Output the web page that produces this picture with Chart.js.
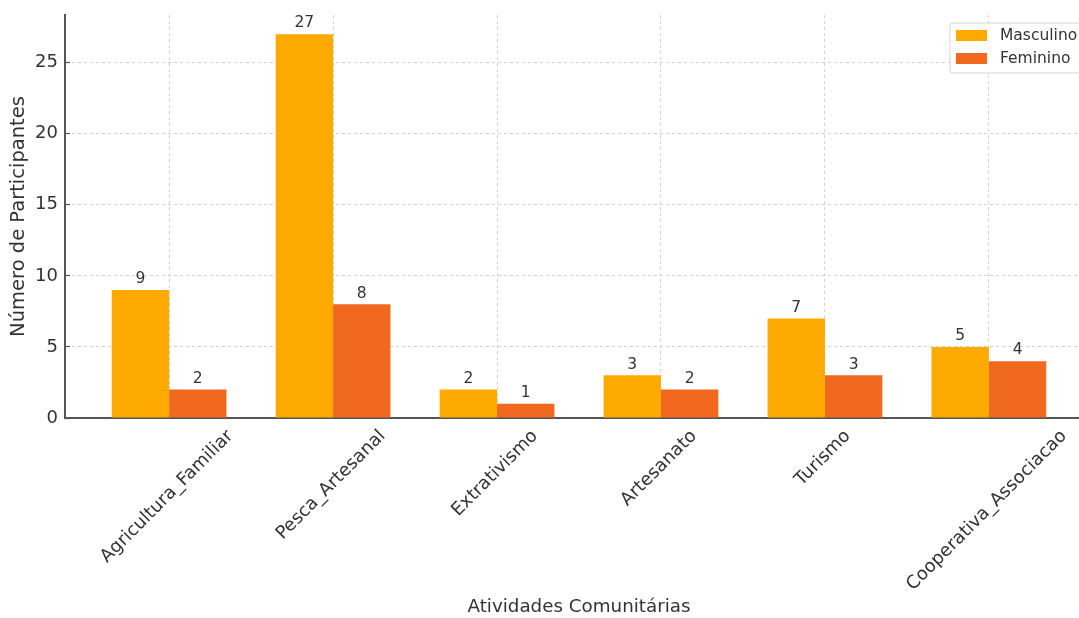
<!DOCTYPE html>
<html>
<head>
<meta charset="utf-8">
<script src="https://cdn.jsdelivr.net/npm/chart.js@4"></script>
<style>
  html, body { margin: 0; padding: 0; overflow: hidden; background: #fff; }
  /* a bit wider than the window: the plot's right edge is cut off like in the original */
  #wrap { width: 1094px; height: 618px; }
</style>
</head>
<body>
<div id="wrap"><canvas id="chart"></canvas></div>
<script>
// Activities and number of participants per gender
const atividades = ['Agricultura_Familiar', 'Pesca_Artesanal', 'Extrativismo', 'Artesanato', 'Turismo', 'Cooperativa_Associacao'];
const masculino = [9, 27, 2, 3, 7, 5];
const feminino = [2, 8, 1, 2, 3, 4];
const serieNomes = ['Masculino', 'Feminino'];
const serieCores = ['#FFAA00', '#F0691F'];

const FONT = '"DejaVu Sans", sans-serif';
const TEXT = '#333';

// Numbers above every bar
const valueLabels = {
    id: 'valueLabels',
    afterDatasetsDraw(chart) {
        const ctx = chart.ctx;
        ctx.save();
        ctx.font = '15.5px ' + FONT;
        ctx.fillStyle = TEXT;
        ctx.textAlign = 'center';
        ctx.textBaseline = 'bottom';
        chart.data.datasets.forEach((ds, di) => {
            chart.getDatasetMeta(di).data.forEach((bar, i) => {
                ctx.fillText(String(ds.data[i].y), bar.x, bar.y - 3);
            });
        });
        ctx.restore();
    }
};

// Rotated category labels, centred under the tick like matplotlib does
const xLabels = {
    id: 'xLabels',
    afterDraw(chart) {
        const ctx = chart.ctx;
        const xs = chart.scales.x;
        const size = 18;
        const h = size * 1.16;
        ctx.save();
        ctx.font = size + 'px ' + FONT;
        ctx.fillStyle = TEXT;
        ctx.textAlign = 'center';
        ctx.textBaseline = 'middle';
        atividades.forEach((lab, i) => {
            const w = ctx.measureText(lab).width;
            const half = (w + h) * Math.SQRT1_2 / 2;
            ctx.save();
            ctx.translate(xs.getPixelForValue(i) - 2, chart.chartArea.bottom + 8 + half);
            ctx.rotate(-Math.PI / 4);
            ctx.fillText(lab, 0, 0);
            ctx.restore();
        });
        ctx.restore();
    }
};

// Legend box in the upper right corner
const legendBox = {
    id: 'legendBox',
    afterDraw(chart) {
        const ctx = chart.ctx;
        const ca = chart.chartArea;
        const x = ca.right - 143, y = ca.top + 8, w = 136, h = 50;
        ctx.save();
        ctx.beginPath();
        ctx.roundRect(x, y, w, h, 3);
        ctx.fillStyle = 'rgba(255,255,255,0.85)';
        ctx.fill();
        ctx.strokeStyle = '#d4d4d4';
        ctx.lineWidth = 1;
        ctx.stroke();
        ctx.font = '15.5px ' + FONT;
        ctx.textBaseline = 'middle';
        chart.data.datasets.forEach((ds, i) => {
            const ry = y + 7 + i * 23;
            ctx.fillStyle = ds.backgroundColor;
            ctx.fillRect(x + 6, ry, 31, 11);
            ctx.fillStyle = TEXT;
            ctx.fillText(ds.label, x + 50, ry + 6);
        });
        ctx.restore();
    }
};

const canvas = document.getElementById('chart');

new Chart(canvas.getContext('2d'), {
    type: 'bar',
    data: {
        datasets: [
            {
                label: serieNomes[0],
                data: masculino.map((v, i) => ({ x: i, y: v })),
                backgroundColor: serieCores[0],
                categoryPercentage: 0.7,
                barPercentage: 1.0,
            },
            {
                label: serieNomes[1],
                data: feminino.map((v, i) => ({ x: i, y: v })),
                backgroundColor: serieCores[1],
                categoryPercentage: 0.7,
                barPercentage: 1.0,
            }
        ]
    },
    options: {
        responsive: true,
        maintainAspectRatio: false,
        animation: false,
        layout: { padding: { top: 15, right: 1, left: 0, bottom: 0 } },
        plugins: {
            legend: { display: false },
            tooltip: { enabled: false }
        },
        scales: {
            x: {
                type: 'linear',
                min: -0.635,
                max: 5.635,
                offset: false,
                afterBuildTicks: (s) => { s.ticks = atividades.map((_, i) => ({ value: i })); },
                ticks: { display: false },
                grid: { offset: false, color: '#d2d2d2', tickLength: -5, tickColor: '#555', tickWidth: 1.2 },
                border: { color: '#555', width: 2, dash: [3, 3] },
                title: {
                    display: true,
                    text: 'Atividades Comunitárias',
                    color: TEXT,
                    font: { family: FONT, size: 18.3 },
                    padding: { top: 0, bottom: 0 }
                },
                afterFit: (s) => { s.height = 200; s.paddingLeft = 0; s.paddingRight = 0; }
            },
            y: {
                min: 0,
                max: 28.35,
                ticks: {
                    stepSize: 5,
                    includeBounds: false,
                    color: TEXT,
                    font: { family: FONT, size: 18 },
                    padding: 12
                },
                grid: { color: '#d2d2d2', tickLength: -5, tickColor: '#555', tickWidth: 1.2 },
                border: { color: '#555', width: 2, dash: [3, 3] },
                title: {
                    display: true,
                    text: 'Número de Participantes',
                    color: TEXT,
                    font: { family: FONT, size: 19.5 },
                    padding: { top: 7, bottom: 0 }
                },
                afterFit: (s) => { s.width = 65; s.paddingTop = 0; s.paddingBottom = 0; }
            }
        }
    },
    plugins: [valueLabels, xLabels, legendBox]
});
</script>
</body>
</html>
